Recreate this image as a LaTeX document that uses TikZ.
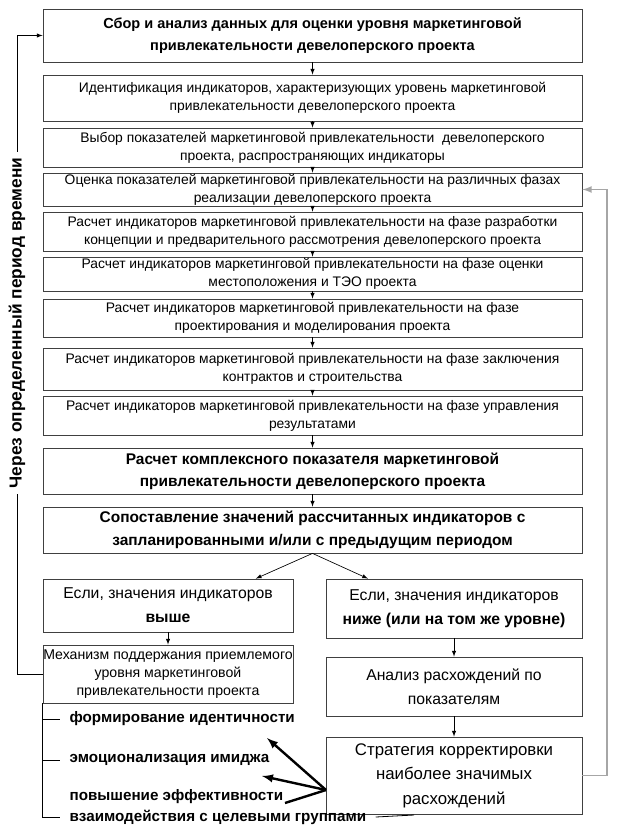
\documentclass[tikz,border=0pt]{standalone}
\usepackage{fontspec}
\setmainfont{Liberation Sans}
\usetikzlibrary{calc}

\begin{document}
\begin{tikzpicture}[x=0.75pt,y=-0.75pt,>=latex,
  blk/.style={draw=black!75,line width=0.6pt,inner sep=0pt,align=center},
  wide/.style={blk,minimum width=404.25pt},
  half/.style={blk,minimum width=187.5pt},
  halfr/.style={blk,minimum width=192pt},
  small/.style={font=\fontsize{10.4}{13.5}\selectfont},
  big/.style={font=\bfseries\fontsize{10.9}{16.5}\selectfont},
  mid/.style={font=\fontsize{11.8}{18}\selectfont},
  item/.style={anchor=west,inner xsep=7pt,inner ysep=0pt,font=\bfseries\fontsize{11.4}{13}\selectfont},
  link/.style={->,line width=0.5pt},
  thk/.style={->,line width=1.8pt}]
\newcommand{\hA}{39.75pt} \newcommand{\hB}{34.5pt} \newcommand{\hC}{29.25pt}
  \useasboundingbox (0,0) rectangle (624,831);
  \begin{scope}
    % Main column
    \node[wide,big,minimum height=\hA] (b1) at (312.5,35.5)
      {Сбор и анализ данных для оценки уровня маркетинговой\\привлекательности девелоперского проекта};
    \node[wide,small,minimum height=\hB] (b2) at (312.5,98)
      {Идентификация индикаторов, характеризующих уровень маркетинговой\\привлекательности девелоперского проекта};
    \node[wide,small,minimum height=\hC] (b3) at (312.5,147.5)
      {Выбор показателей маркетинговой привлекательности \ девелоперского\\проекта, распространяющих индикаторы};
    \node[wide,small,minimum height=24.75pt] (b4) at (312.5,189.5)
      {Оценка показателей маркетинговой привлекательности на различных фазах\\реализации девелоперского проекта};
    \node[wide,small,minimum height=\hC] (b5) at (312.5,231.5)
      {Расчет индикаторов маркетинговой привлекательности на фазе разработки\\концепции и предварительного рассмотрения девелоперского проекта};
    \node[wide,small,minimum height=25.5pt] (b6) at (312.5,274)
      {Расчет индикаторов маркетинговой привлекательности на фазе оценки\\местоположения и ТЭО проекта};
    \node[wide,small,minimum height=28.5pt] (b7) at (312.5,318)
      {Расчет индикаторов маркетинговой привлекательности на фазе\\проектирования и моделирования проекта};
    \node[wide,small,minimum height=31.5pt] (b8) at (312.5,369)
      {Расчет индикаторов маркетинговой привлекательности на фазе заключения\\контрактов и строительства};
    \node[wide,small,minimum height=\hC] (b9) at (312.5,415.5)
      {Расчет индикаторов маркетинговой привлекательности на фазе управления\\результатами};
    \node[wide,big,font=\bfseries\fontsize{11.6}{16.5}\selectfont,minimum height=\hB] (b10) at (312.5,471)
      {Расчет комплексного показателя маркетинговой\\привлекательности девелоперского проекта};
    \node[wide,big,font=\bfseries\fontsize{11.6}{17}\selectfont,minimum height=\hB] (b11) at (312.5,530)
      {Сопоставление значений рассчитанных индикаторов с\\запланированными и/или с предыдущим периодом};

    % Arrows down the main column
    \draw[link] (b1.south) -- (b2.north);
    \draw[link] (b2.south) -- (b3.north);
    \draw[link] (b3.south) -- (b4.north);
    \draw[link] (b4.south) -- (b5.north);
    \draw[link] (b5.south) -- (b6.north);
    \draw[link] (b6.south) -- (b7.north);
    \draw[link] (b7.south) -- (b8.north);
    \draw[link] (b8.south) -- (b9.north);
    \draw[link] (b9.south) -- (b10.north);
    \draw[link] (b10.south) -- (b11.north);

    % Two branches
    \node[half,mid,minimum height=\hA] (hi) at (168,605.5)
      {Если, значения индикаторов\\\textbf{выше}};
    \node[halfr,mid,minimum height=44.25pt] (lo) at (454,608.5)
      {Если, значения индикаторов\\\textbf{ниже (или на том же уровне)}};
    \draw[link] (b11.south) -- ($(hi.north)!0.7!(hi.north east)$);
    \draw[link] (b11.south) -- ($(lo.north)!0.67!(lo.north west)$);

    % Left branch
    \node[half,font=\fontsize{10.6}{13.5}\selectfont,minimum height=43.5pt] (mech) at (168,674)
      {Механизм поддержания приемлемого\\уровня маркетинговой\\привлекательности проекта};
    \draw[link] (hi.south) -- (mech.north);

    % Right branch
    \node[halfr,mid,minimum height=44.25pt] (ana) at (454,686.5)
      {Анализ расхождений по\\показателям};
    \node[halfr,font=\fontsize{12.6}{18.4}\selectfont,minimum height=57.75pt] (strat) at (454,775.5)
      {Стратегия корректировки\\наиболее значимых\\расхождений};
    \draw[link] (lo.south) -- (ana.north);
    \draw[link] (ana.south) -- (strat.north);

    % Measures
    \node[item] (it1) at (60,719) {формирование идентичности};
    \node[item] (it2) at (60,760) {эмоционализация имиджа};
    \node[item] (it3) at (60,797) {повышение эффективности};
    \node[item] (it4) at (60,817) {взаимодействия с целевыми группами};
    \draw[line width=0.6pt] (mech.south west) |- (it4.west);
    \draw[line width=0.6pt] (mech.south west |- it1.west) -- (it1.west);
    \draw[line width=0.6pt] (mech.south west |- it2.west) -- (it2.west);
    \coordinate (tail) at (414,815);
    \draw[line width=0.6pt] (it4.east) -- (tail);

    % Thick arrows from the strategy
    \coordinate (src) at (326,790);
    \coordinate (t1) at (267,738);
    \coordinate (t2) at (262,776);
    \coordinate (t3) at (285,803);
    \draw[thk] (src) -- (t1);
    \draw[thk] (src) -- (t2);
    \draw[line width=1.8pt] (src) -- (t3);

    % Feedback loops
    \node[rotate=90,font=\bfseries\fontsize{13}{15}\selectfont,inner sep=4pt] (period) at (17,323)
      {Через определенный период времени};
    \draw[line width=0.6pt] (mech.west) -| (period.west);
    \draw[link] (period.east) |- (b1.west);
    \coordinate (rback) at (607,400);
    \draw[->,black!35,line width=1.4pt] (strat.east) -- (strat.east -| rback) |- (b4.east);
  \end{scope}
\end{tikzpicture}
\end{document}
